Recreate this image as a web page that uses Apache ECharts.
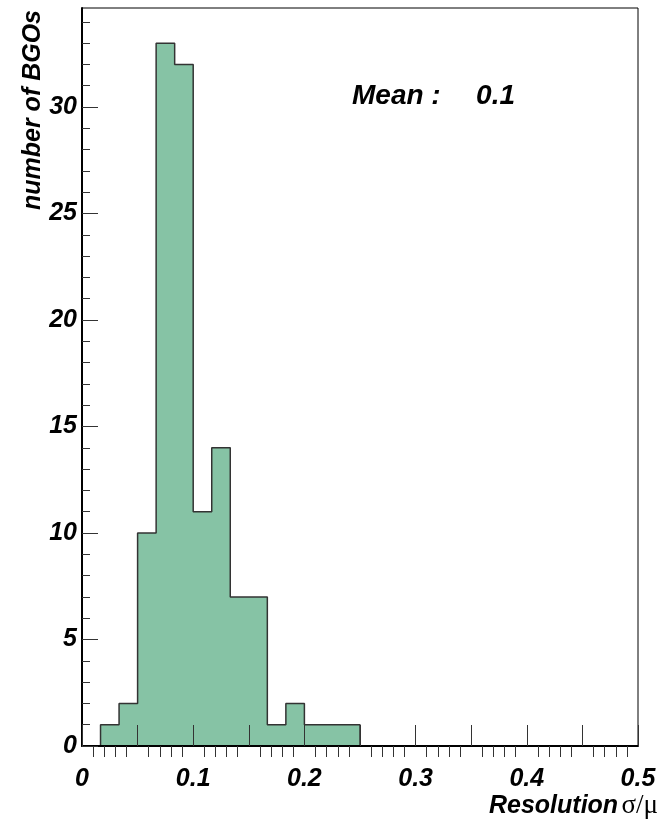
<!DOCTYPE html>
<html>
<head>
<meta charset="utf-8">
<script src="https://cdn.jsdelivr.net/npm/echarts@6/dist/echarts.min.js"></script>
<style>
	body { margin: 0; background: #fff; }
	#chart { width: 666px; height: 822px; }
</style>
</head>
<body>
<div id="chart"></div>
<script>
// histogram: 30 bins from 0 to 0.5
var xMin = 0;
var xMax = 0.5;
var binCounts = [0, 1, 2, 10, 33, 32, 11, 14, 7, 7, 1, 2, 1, 1, 1,
	0, 0, 0, 0, 0, 0, 0, 0, 0, 0, 0, 0, 0, 0, 0];
var yMax = 34.65;

// tick positions and labels
var xMajorTicks = [0, 0.05, 0.1, 0.15, 0.2, 0.25, 0.3, 0.35, 0.4, 0.45, 0.5];
var xMinorTicks = [0.01, 0.02, 0.03, 0.04, 0.06, 0.07, 0.08, 0.09, 0.11, 0.12, 0.13, 0.14,
	0.16, 0.17, 0.18, 0.19, 0.21, 0.22, 0.23, 0.24, 0.26, 0.27, 0.28, 0.29,
	0.31, 0.32, 0.33, 0.34, 0.36, 0.37, 0.38, 0.39, 0.41, 0.42, 0.43, 0.44,
	0.46, 0.47, 0.48, 0.49];
var xLabels = [0, 0.1, 0.2, 0.3, 0.4, 0.5];
var yMajorTicks = [0, 5, 10, 15, 20, 25, 30];
var yMinorTicks = [1, 2, 3, 4, 6, 7, 8, 9, 11, 12, 13, 14, 16, 17, 18, 19,
	21, 22, 23, 24, 26, 27, 28, 29, 31, 32, 33, 34];

var meanText = 'Mean :';
var meanValue = '0.1';

// step points: low edge of every bin, then the last high edge
var binWidth = (xMax - xMin) / binCounts.length;
var stepData = [];
for (var i = 0; i < binCounts.length; i++) {
	stepData.push([xMin + i * binWidth, binCounts[i]]);
}
stepData.push([xMax, 0]);

var labelFont = {
	fontFamily: 'Liberation Sans',
	fontWeight: 'bold',
	fontStyle: 'italic',
	fontSize: 25,
	color: '#000'
};

var chart = echarts.init(document.getElementById('chart'));

chart.setOption({
	animation: false,
	backgroundColor: '#fff',
	grid: {
		left: 82, right: 28, top: 8, bottom: 76,
		show: true, borderColor: '#000', borderWidth: 1, backgroundColor: 'transparent'
	},
	xAxis: [{
		type: 'value', min: xMin, max: xMax, z: 5,
		axisLine: { show: true, onZero: false, lineStyle: { color: '#000', width: 2 } },
		axisTick: { show: true, inside: true, length: 21, customValues: xMajorTicks, lineStyle: { color: '#333', width: 1 } },
		axisLabel: Object.assign({
			customValues: xLabels, margin: 21,
			formatter: function (v) { return String(+v.toFixed(2)); }
		}, labelFont),
		splitLine: { show: false }
	}, {
		type: 'value', min: xMin, max: xMax, z: 5,
		axisLine: { show: false },
		axisTick: { show: true, inside: true, length: 11, customValues: xMinorTicks, lineStyle: { color: '#333', width: 1 } },
		axisLabel: { show: false },
		splitLine: { show: false }
	}],
	yAxis: [{
		type: 'value', min: 0, max: yMax, z: 5,
		axisLine: { show: true, onZero: false, lineStyle: { color: '#000', width: 2 } },
		axisTick: { show: true, inside: true, length: 16, customValues: yMajorTicks, lineStyle: { color: '#333', width: 1 } },
		axisLabel: Object.assign({ customValues: yMajorTicks, margin: 5 }, labelFont),
		splitLine: { show: false }
	}, {
		type: 'value', min: 0, max: yMax, z: 5, position: 'left',
		axisLine: { show: false },
		axisTick: { show: true, inside: true, length: 8, customValues: yMinorTicks, lineStyle: { color: '#333', width: 1 } },
		axisLabel: { show: false },
		splitLine: { show: false }
	}],
	series: [{
		type: 'line',
		step: 'end',
		data: stepData,
		showSymbol: false,
		lineStyle: { color: '#333', width: 1.5 },
		areaStyle: { color: '#86c3a5', opacity: 1 }
	}],
	graphic: [{
		type: 'text', x: 352, y: 96,
		style: { text: meanText, font: 'italic bold 28px "Liberation Sans"', fill: '#000', align: 'left', verticalAlign: 'middle' }
	}, {
		type: 'text', x: 515, y: 96,
		style: { text: meanValue, font: 'italic bold 28px "Liberation Sans"', fill: '#000', align: 'right', verticalAlign: 'middle' }
	}, {
		// y axis title, reads bottom to top
		type: 'text', x: 33, y: 10, rotation: Math.PI / 2,
		style: { text: 'number of BGOs', font: 'italic bold 25px "Liberation Sans"', fill: '#000', align: 'right', verticalAlign: 'middle' }
	}, {
		type: 'text', x: 658, y: 806,
		style: {
			text: '{a|Resolution} {b|σ/μ}',
			align: 'right', verticalAlign: 'middle',
			rich: {
				a: { fontFamily: 'Liberation Sans', fontWeight: 'bold', fontStyle: 'italic', fontSize: 25, fill: '#000' },
				b: { fontFamily: 'Liberation Serif', fontSize: 27, fill: '#000' }
			}
		}
	}]
});
</script>
</body>
</html>
